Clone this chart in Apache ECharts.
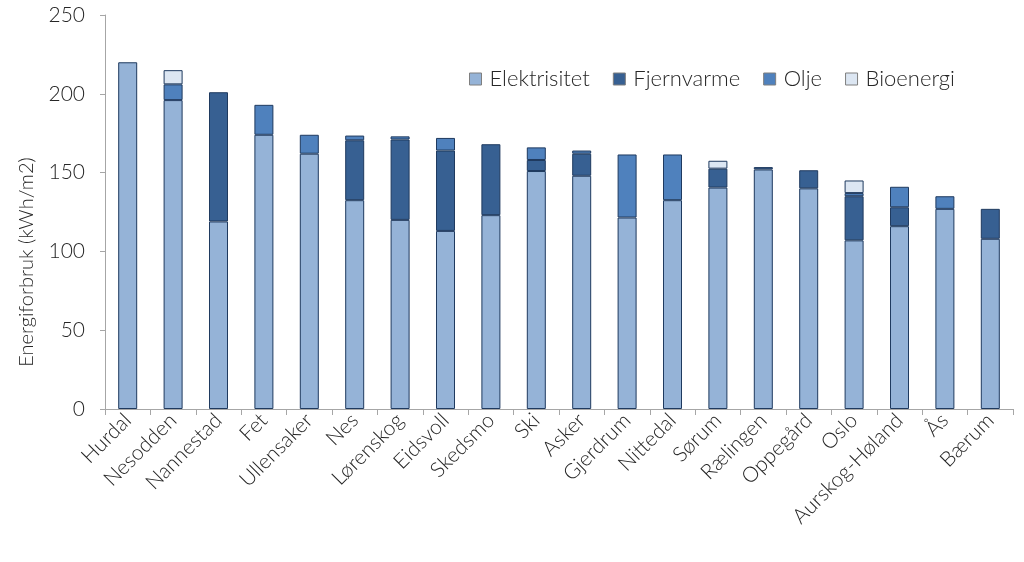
<!DOCTYPE html>
<html>
<head>
<meta charset="utf-8">
<script src="https://cdn.jsdelivr.net/npm/echarts@6/dist/echarts.min.js"></script>
<style>
  html, body { margin: 0; padding: 0; background: #fff; }
  #chart { width: 1024px; height: 562px; }
</style>
</head>
<body>
<div id="chart"></div>
<script>
// kommuner, sortert etter totalt forbruk
const kommuner = ["Hurdal", "Nesodden", "Nannestad", "Fet", "Ullensaker", "Nes", "Lørenskog", "Eidsvoll",
  "Skedsmo", "Ski", "Asker", "Gjerdrum", "Nittedal", "Sørum", "Rælingen", "Oppegård", "Oslo",
  "Aurskog-Høland", "Ås", "Bærum"];

// kWh/m2 per energibærer
const elektrisitet = [220, 196, 119, 174, 162, 132.5, 120, 113, 123, 151, 148, 121.5, 132.5, 140.5, 152, 140, 107, 116, 127, 108];
const fjernvarme   = [0, 0, 82, 0, 0, 38, 51, 51, 45, 7, 14, 0, 0, 12, 1.5, 11.5, 28, 12, 0, 19];
const olje         = [0, 10, 0, 19, 12, 3, 2, 8, 0, 8, 2, 40, 29, 0, 0, 0, 2, 13, 8, 0];
const bioenergi    = [0, 9, 0, 0, 0, 0, 0, 0, 0, 0, 0, 0, 0, 5, 0, 0, 8, 0, 0, 0];

const font = "Lato, 'Open Sans', sans-serif";
const kantfarge = "#1f3a5f";

// 0 -> '-' slik at tomme segmenter ikke tegner kantlinje
function serie(name, data, color) {
  return {
    name: name,
    type: "bar",
    stack: "total",
    data: data.map(v => (v === 0 ? "-" : v)),
    barWidth: 19,
    itemStyle: { color: color, borderColor: kantfarge, borderWidth: 1 }
  };
}

const chart = echarts.init(document.getElementById("chart"));
chart.setOption({
  animation: false,
  textStyle: { fontFamily: font },
  legend: {
    top: 63,
    left: 464,
    icon: "rect",
    itemWidth: 12,
    itemHeight: 12,
    itemGap: 23,
    textStyle: { fontSize: 22, color: "#262626", fontFamily: font, fontWeight: 300, padding: [0, 0, 0, 3] },
    data: [
      { name: "Elektrisitet", itemStyle: { borderColor: "#7f7f7f", borderWidth: 1 } },
      { name: "Fjernvarme", itemStyle: { borderColor: "#7f7f7f", borderWidth: 1 } },
      { name: "Olje", itemStyle: { borderColor: "#7f7f7f", borderWidth: 1 } },
      { name: "Bioenergi", itemStyle: { borderColor: "#7f7f7f", borderWidth: 1 } }
    ]
  },
  grid: { left: 105, right: 11, top: 15, bottom: 153, containLabel: false },
  xAxis: {
    type: "category",
    data: kommuner,
    axisLine: { lineStyle: { color: "#a6a6a6" } },
    axisTick: { show: true, length: 6, lineStyle: { color: "#a6a6a6" } },
    axisLabel: { rotate: 45, interval: 0, fontSize: 21, color: "#262626", margin: 8, fontWeight: 300 }
  },
  yAxis: {
    type: "value",
    min: 0,
    max: 250,
    interval: 50,
    name: "Energiforbruk (kWh/m2)",
    nameLocation: "middle",
    nameGap: 68,
    nameTextStyle: { fontSize: 20, color: "#262626", fontWeight: 300, padding: [0, 100, 0, 0] },
    axisLine: { show: true, lineStyle: { color: "#a6a6a6" } },
    axisTick: { show: true, length: 5, lineStyle: { color: "#a6a6a6" } },
    axisLabel: { fontSize: 21, color: "#262626", margin: 20, fontWeight: 300 },
    splitLine: { show: false }
  },
  series: [
    serie("Elektrisitet", elektrisitet, "#95b3d7"),
    serie("Fjernvarme", fjernvarme, "#376092"),
    serie("Olje", olje, "#4f81bd"),
    serie("Bioenergi", bioenergi, "#dce6f2")
  ]
});
</script>
</body>
</html>
